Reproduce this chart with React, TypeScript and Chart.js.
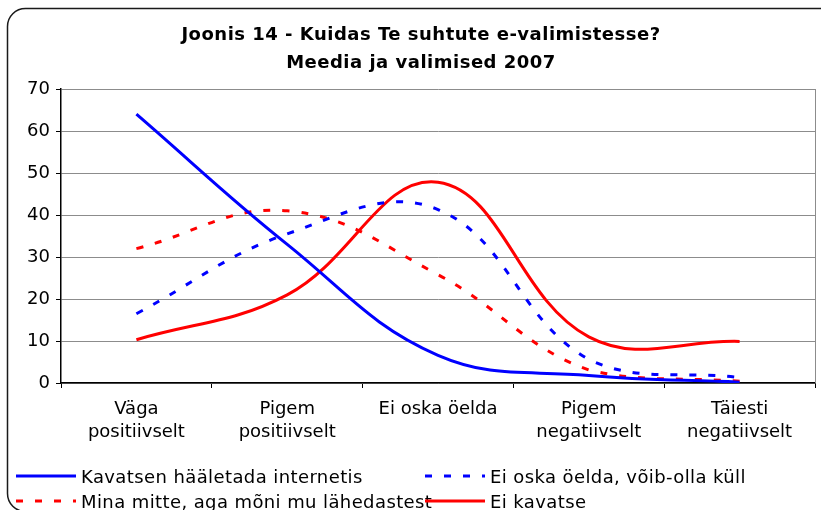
import React, { useEffect, useRef } from "react";
import { Chart, registerables } from "chart.js";

Chart.register(...registerables);

const TITLE_LINES = ["Joonis 14 - Kuidas Te suhtute e-valimistesse?", "Meedia ja valimised 2007"];
const CATEGORIES = [
  ["Väga", "positiivselt"],
  ["Pigem", "positiivselt"],
  "Ei oska öelda",
  ["Pigem", "negatiivselt"],
  ["Täiesti", "negatiivselt"],
];
const SERIES_NAMES = [
  "Kavatsen hääletada internetis",
  "Ei oska öelda, võib-olla küll",
  "Mina mitte, aga mõni mu lähedastest",
  "Ei kavatse",
];
const KAVATSEN = [64, 33, 6.6, 1.8, 0.2];
const EI_OSKA = [16.5, 35.5, 41.3, 5.6, 1.3];
const MINA_MITTE = [32, 41, 25.8, 3.1, 0.4];
const EI_KAVATSE = [10.3, 21, 47.8, 11, 9.9];
const Y_MIN = 0;
const Y_MAX = 70;
const Y_STEP = 10;

const FONT = '"DejaVu Sans", Verdana, sans-serif';

const framePlugin = {
  id: "excelFrame",
  beforeDraw(chart: any) {
    const ctx = chart.ctx;
    ctx.save();
    ctx.fillStyle = "#ffffff";
    ctx.fillRect(0, 0, chart.width, chart.height);
    ctx.strokeStyle = "#1a1a1a";
    ctx.lineWidth = 1.5;
    ctx.beginPath();
    ctx.roundRect(7.5, 8.5, 830, 503, 18);
    ctx.stroke();
    ctx.fillStyle = "#000000";
    ctx.font = `bold 18px ${FONT}`;
    ctx.textAlign = "center";
    ctx.textBaseline = "alphabetic";
    (ctx as any).letterSpacing = "0.5px";
    ctx.fillText(TITLE_LINES[0], 421, 40);
    ctx.fillText(TITLE_LINES[1], 421, 68);
    (ctx as any).letterSpacing = "0px";
    ctx.restore();
  },
  afterDraw(chart: any) {
    const ctx = chart.ctx;
    const { chartArea } = chart;
    ctx.save();
    ctx.strokeStyle = "#8c8c8c";
    ctx.lineWidth = 1;
    ctx.beginPath();
    ctx.moveTo(Math.round(chartArea.right) + 0.5, chartArea.top);
    ctx.lineTo(Math.round(chartArea.right) + 0.5, chartArea.bottom);
    ctx.stroke();

    const markX = [16, 425];
    const textX = [81, 490];
    const rowY = [476, 501];
    chart.data.datasets.forEach((ds: any, i: number) => {
      const col = i % 2;
      const row = Math.floor(i / 2);
      const y = rowY[row];
      ctx.strokeStyle = ds.borderColor;
      ctx.lineWidth = ds.borderWidth;
      ctx.setLineDash(ds.borderDash || []);
      ctx.beginPath();
      ctx.moveTo(markX[col], y);
      ctx.lineTo(markX[col] + 60, y);
      ctx.stroke();
      ctx.setLineDash([]);
      ctx.fillStyle = "#000000";
      ctx.font = `18px ${FONT}`;
      ctx.textAlign = "left";
      ctx.textBaseline = "alphabetic";
      (ctx as any).letterSpacing = "0.4px";
      ctx.fillText(ds.label, textX[col], y + 7);
      (ctx as any).letterSpacing = "0px";
    });
    ctx.restore();
  },
};

export default function App() {
  const ref = useRef<HTMLCanvasElement | null>(null);

  useEffect(() => {
    if (!ref.current) return;
    const common = { pointRadius: 0, pointHoverRadius: 0, fill: false, tension: 0.4, borderWidth: 3 };
    const chart = new Chart(ref.current, {
      type: "line",
      data: {
        labels: CATEGORIES as any,
        datasets: [
          { ...common, label: SERIES_NAMES[0], data: KAVATSEN, borderColor: "#0000ff" },
          { ...common, label: SERIES_NAMES[1], data: EI_OSKA, borderColor: "#0000ff", borderDash: [7, 12] },
          { ...common, label: SERIES_NAMES[2], data: MINA_MITTE, borderColor: "#ff0000", borderDash: [7, 12] },
          { ...common, label: SERIES_NAMES[3], data: EI_KAVATSE, borderColor: "#ff0000" },
        ],
      },
      options: {
        animation: false,
        responsive: false,
        devicePixelRatio: 1,
        layout: { padding: { top: 89, left: 0, right: 6, bottom: 47 } },
        plugins: {
          legend: { display: false },
          title: { display: false },
          tooltip: { enabled: false },
        },
        scales: {
          x: {
            offset: true,
            grid: { offset: true, drawOnChartArea: false, drawTicks: true, tickLength: 5, tickColor: "#000000" },
            border: { color: "#000000", width: 1.5 },
            ticks: {
              color: "#000000",
              font: { family: FONT, size: 18, lineHeight: 1.27 },
              padding: 10,
              maxRotation: 0,
              autoSkip: false,
            },
            afterFit: (s: any) => {
              s.height = 80;
            },
          },
          y: {
            min: Y_MIN,
            max: Y_MAX,
            ticks: { stepSize: Y_STEP, color: "#000000", font: { family: FONT, size: 18 }, padding: 6 },
            grid: { color: "#8c8c8c", tickColor: "#000000", tickLength: 5, lineWidth: 1 },
            border: { color: "#000000", width: 1.5 },
            afterFit: (s: any) => {
              s.width = 61;
            },
          },
        },
      },
      plugins: [framePlugin],
    });
    return () => chart.destroy();
  }, []);

  return (
    <div style={{ position: "absolute", left: 0, top: 0, width: 821, height: 510 }}>
      <canvas ref={ref} width={821} height={510} style={{ display: "block" }} />
    </div>
  );
}
